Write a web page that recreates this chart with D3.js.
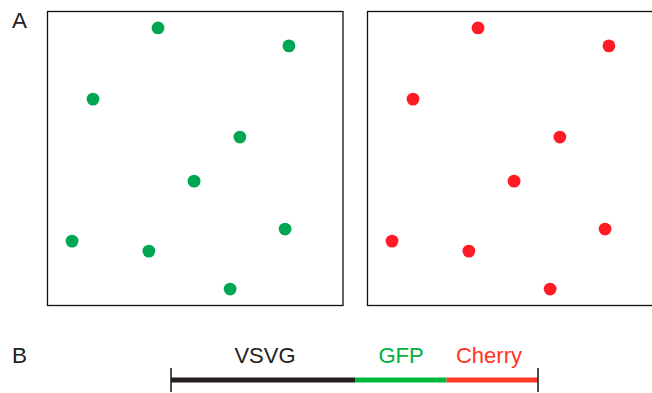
<!DOCTYPE html>
<html lang="en">
<head>
<meta charset="utf-8">
<title>Panels A and B</title>
<script src="https://d3js.org/d3.v7.min.js"></script>
<style>
  body { margin: 0; background: #fff; }
  svg { display: block; font-family: "Liberation Sans", Arial, sans-serif; }
</style>
</head>
<body>
<script>
// dot positions in panel units (0-100), same layout in both panels
var dotX = [37.4, 81.7, 15.4, 65.1, 49.6, 8.3, 80.4, 34.3, 61.8];
var dotY = [94.4, 88.3, 70.2, 57.3, 42.3, 21.9, 26.0, 18.5, 5.6];
var panelNames = ["green", "red"];
var panelColors = ["#00a651", "#ff1a25"];

// construct segments (lengths in arbitrary units)
var segNames = ["VSVG", "GFP", "Cherry"];
var segLengths = [1.65, 0.82, 0.82];
var segColors = ["#231f20", "#00b83c", "#ff3b26"];
var labelColors = ["#231f20", "#00b140", "#ff3322"];

var width = 652, height = 393;

var svg = d3.select("body").append("svg")
    .attr("width", width)
    .attr("height", height);

// panel letters
svg.append("text").attr("x", 12).attr("y", 27.5)
    .attr("font-size", 22.5).attr("fill", "#231f20").text("A");
svg.append("text").attr("x", 12).attr("y", 363)
    .attr("font-size", 22.5).attr("fill", "#231f20").text("B");

var panelW = 295.5, panelH = 294;
var panelLeft = [47.5, 367.5];
var panelTop = 11.5;

panelNames.forEach(function(name, i) {
  var x = d3.scaleLinear().domain([0, 100]).range([panelLeft[i], panelLeft[i] + panelW]);
  var y = d3.scaleLinear().domain([0, 100]).range([panelTop + panelH, panelTop]);

  var g = svg.append("g").attr("class", "panel-" + name);

  g.append("rect")
      .attr("x", x(0))
      .attr("y", y(100))
      .attr("width", x(100) - x(0))
      .attr("height", y(0) - y(100))
      .attr("fill", "none")
      .attr("stroke", "#111")
      .attr("stroke-width", 1.3);

  g.selectAll("circle")
      .data(d3.range(dotX.length))
      .enter().append("circle")
      .attr("cx", function(k) { return x(dotX[k]); })
      .attr("cy", function(k) { return y(dotY[k]); })
      .attr("r", 6.4)
      .attr("fill", panelColors[i]);
});

// construct bar
var total = d3.sum(segLengths);
var starts = segLengths.map(function(d, k) { return d3.sum(segLengths.slice(0, k)); });
var bx = d3.scaleLinear().domain([0, total]).range([171, 538]);
var barY = 380;

var gb = svg.append("g").attr("class", "construct");

gb.selectAll("line.seg")
    .data(segNames)
    .enter().append("line")
    .attr("class", "seg")
    .attr("x1", function(d, k) { return bx(starts[k]); })
    .attr("x2", function(d, k) { return bx(starts[k] + segLengths[k]); })
    .attr("y1", barY).attr("y2", barY)
    .attr("stroke", function(d, k) { return segColors[k]; })
    .attr("stroke-width", 4.8);

gb.selectAll("line.tick")
    .data([0, total])
    .enter().append("line")
    .attr("class", "tick")
    .attr("x1", function(d) { return bx(d); })
    .attr("x2", function(d) { return bx(d); })
    .attr("y1", 368).attr("y2", 392)
    .attr("stroke", "#231f20")
    .attr("stroke-width", 1.6);

var labelX = [265, 401, 489];
gb.selectAll("text")
    .data(segNames)
    .enter().append("text")
    .attr("x", function(d, k) { return labelX[k]; })
    .attr("y", 362.5)
    .attr("text-anchor", "middle")
    .attr("font-size", 22)
    .attr("fill", function(d, k) { return labelColors[k]; })
    .text(function(d) { return d; });
</script>
</body>
</html>
